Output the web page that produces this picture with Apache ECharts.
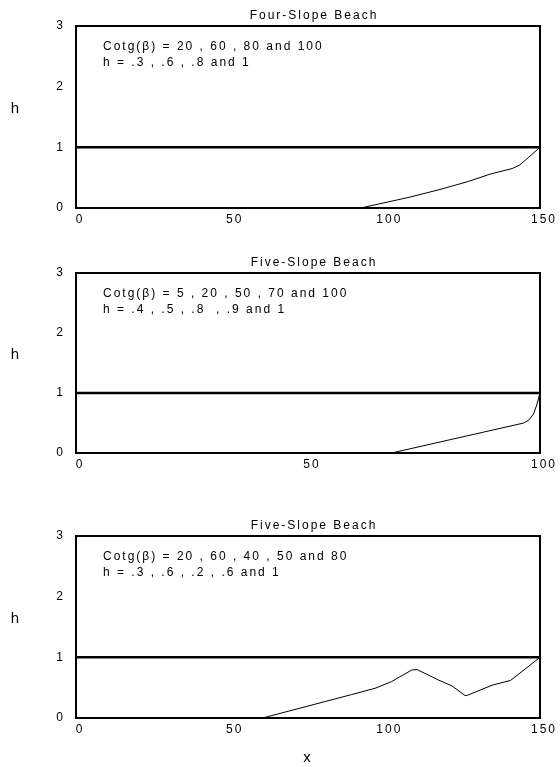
<!DOCTYPE html>
<html>
<head>
<meta charset="utf-8">
<script src="https://cdn.jsdelivr.net/npm/echarts@6/dist/echarts.min.js"></script>
<style>
  html, body { margin: 0; padding: 0; background: #fff; }
  #main { width: 560px; height: 767px; }
</style>
</head>
<body>
<div id="main"></div>
<script>
// the original plot uses widely spaced lettering
var SPACING = '2px';
var proto = CanvasRenderingContext2D.prototype;
var origFill = proto.fillText, origMeasure = proto.measureText;
proto.fillText = function () { this.letterSpacing = SPACING; return origFill.apply(this, arguments); };
proto.measureText = function () { this.letterSpacing = SPACING; return origMeasure.apply(this, arguments); };

var titles = ['Four-Slope Beach', 'Five-Slope Beach', 'Five-Slope Beach'];
var cotgText = ['Cotg(\u03b2) = 20 , 60 , 80 and 100', 'Cotg(\u03b2) = 5 , 20 , 50 , 70 and 100', 'Cotg(\u03b2) = 20 , 60 , 40 , 50 and 80'];
var hText = ['h = .3 , .6 , .8 and 1', 'h = .4 , .5 , .8  , .9 and 1', 'h = .3 , .6 , .2 , .6 and 1'];

var xMax = [150, 100, 150];
var xStep = [50, 50, 50];
var yMax = 3;
var yStep = 1;
var waterLevel = 1;

// beach profiles (x, h)
var profile1 = [[0, 0], [92, 0], [108, 0.18], [118, 0.31], [127, 0.44], [134, 0.56], [141, 0.65], [143.5, 0.71], [150, 1]];
var profile2 = [[0, 0], [68, 0], [96.5, 0.5], [97.6, 0.55], [98.6, 0.65], [99.3, 0.8], [100, 1]];
var profile3 = [[0, 0], [60.3, 0], [89, 0.385], [96.7, 0.49], [102, 0.6], [108.5, 0.79], [110.2, 0.8], [117, 0.63], [121.5, 0.53], [125.8, 0.37], [126.6, 0.375], [134.5, 0.54], [140.5, 0.62], [150, 1]];
var profiles = [profile1, profile2, profile3];

var font = 'Liberation Sans, Arial, sans-serif';
var tops = [26, 273, 536];
var heights = [182, 180, 183];

var chart = echarts.init(document.getElementById('main'), null, { renderer: 'canvas' });

var grid = [], xAxis = [], yAxis = [], series = [], graphic = [];
for (var i = 0; i < 3; i++) {
  grid.push({ left: 76, right: 18, top: tops[i], height: heights[i], show: true, borderColor: '#000', borderWidth: 2, backgroundColor: 'transparent' });
  xAxis.push({
    type: 'value', gridIndex: i, min: 0, max: xMax[i], interval: xStep[i],
    axisLine: { show: false }, axisTick: { show: false }, splitLine: { show: false },
    axisLabel: { color: '#000', fontSize: 12, fontFamily: font, margin: 5, padding: [0, 0, 0, 8] },
    name: i === 2 ? 'x' : '', nameLocation: 'middle', nameGap: 31,
    nameTextStyle: { color: '#000', fontSize: 15, fontFamily: font }
  });
  yAxis.push({
    type: 'value', gridIndex: i, min: 0, max: yMax, interval: yStep,
    axisLine: { show: false }, axisTick: { show: false }, splitLine: { show: false },
    axisLabel: { color: '#000', fontSize: 12, fontFamily: font, margin: 11 },
    name: 'h', nameLocation: 'middle', nameRotate: 0, nameGap: 55,
    nameTextStyle: { color: '#000', fontSize: 15, fontFamily: font, verticalAlign: 'bottom' }
  });
  series.push({
    type: 'line', xAxisIndex: i, yAxisIndex: i, data: [[0, waterLevel], [xMax[i], waterLevel]],
    showSymbol: false, silent: true, lineStyle: { color: '#000', width: 2.5 }, z: 3
  });
  series.push({
    type: 'line', xAxisIndex: i, yAxisIndex: i, data: profiles[i],
    showSymbol: false, silent: true, lineStyle: { color: '#000', width: 1 }, z: 2
  });
  graphic.push({ type: 'text', x: 314, y: tops[i] - 10, style: { text: titles[i], font: '12px ' + font, fill: '#000', align: 'center', verticalAlign: 'middle' } });
  graphic.push({ type: 'text', x: 103, y: tops[i] + 21, style: { text: cotgText[i], font: '12px ' + font, fill: '#000', align: 'left', verticalAlign: 'middle' } });
  graphic.push({ type: 'text', x: 103, y: tops[i] + 37, style: { text: hText[i], font: '12px ' + font, fill: '#000', align: 'left', verticalAlign: 'middle' } });
}

chart.setOption({
  animation: false,
  backgroundColor: '#fff',
  grid: grid,
  xAxis: xAxis,
  yAxis: yAxis,
  series: series,
  graphic: graphic
});
</script>
</body>
</html>
